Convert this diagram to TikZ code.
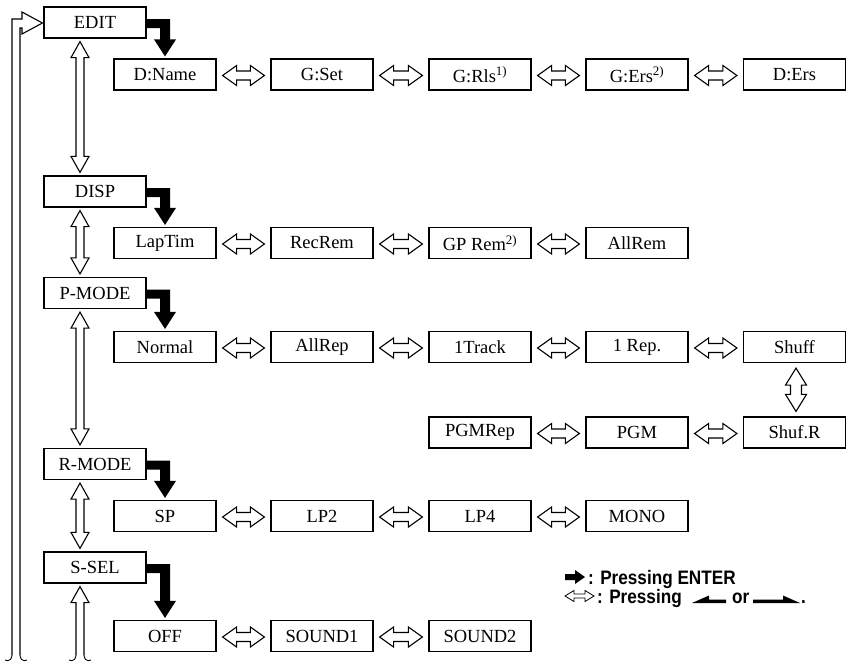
\documentclass[tikz,border=0pt]{standalone}
\usepackage{fontspec}
\setmainfont{Liberation Serif}
\newfontfamily\legfont[FakeStretch=0.88]{Liberation Sans}
\usetikzlibrary{calc}
\tikzset{
  box/.style={draw, line width=1.2pt, minimum width=102pt, minimum height=31pt, inner sep=0pt,
    font=\fontsize{18.5}{21}\selectfont},
  hollow/.style={draw, line width=1.1pt, fill=white, line join=miter},
  openline/.style={draw, line width=1.1pt, line join=miter},
  legtext/.style={anchor=base west, inner sep=0pt, font=\legfont\bfseries\fontsize{19.5}{22}\selectfont},
}
% horizontal hollow double arrow
\newcommand\harr[2]{%
  \draw[hollow] let \p1=(#1.east), \p2=(#2.west) in
   (\x1+6pt,\y1-1pt) -- (\x1+20pt,\y1+9pt) -- (\x1+20pt,\y1+3.5pt) -- (\x2-20pt,\y1+3.5pt)
   -- (\x2-20pt,\y1+9pt) -- (\x2-6pt,\y1-1pt) -- (\x2-20pt,\y1-11pt) -- (\x2-20pt,\y1-5.5pt)
   -- (\x1+20pt,\y1-5.5pt) -- (\x1+20pt,\y1-11pt) -- cycle;}
% vertical hollow double arrow: #1 top node, #2 bottom node, #3 dx, #4 head half, #5 shaft half, #6 head length, #7 gap
\newcommand\varr[7]{%
  \draw[hollow] let \p1=(#1.south), \p2=(#2.north) in
   (\x1+#3,\y1-#7) -- (\x1+#3+#4,\y1-#7-#6) -- (\x1+#3+#5,\y1-#7-#6) -- (\x1+#3+#5,\y2+#7+#6)
   -- (\x1+#3+#4,\y2+#7+#6) -- (\x1+#3,\y2+#7) -- (\x1+#3-#4,\y2+#7+#6) -- (\x1+#3-#5,\y2+#7+#6)
   -- (\x1+#3-#5,\y1-#7-#6) -- (\x1+#3-#4,\y1-#7-#6) -- cycle;}
% black ENTER elbow arrow
\newcommand\enterarr[2]{%
  \fill let \p1=(#1.east), \p2=(#2.north) in
   (\x1,\y1+3.5pt) -- (\x2+5pt,\y1+3.5pt) -- (\x2+5pt,\y2+19pt) -- (\x2+11pt,\y2+19pt)
   -- (\x2,\y2+2pt) -- (\x2-11pt,\y2+19pt) -- (\x2-5pt,\y2+19pt) -- (\x2-5pt,\y1-5.5pt)
   -- (\x1,\y1-5.5pt) -- cycle;}
\begin{document}
\begin{tikzpicture}[x=1pt,y=-1pt]
\useasboundingbox (0,0) rectangle (853,665);
% left column
\node[box] (edit) at (95,22.5) {EDIT};
\node[box] (disp) at (95,191.5) {DISP};
\node[box] (pmode) at (95,293) {P-MODE};
\node[box] (rmode) at (95,464) {R-MODE};
\node[box] (ssel) at (95,567.5) {S-SEL};
% row 1
\node[box] (dname) at (165,74.5) {D:Name};
\node[box] (gset) at (322,74.5) {G:Set};
\node[box] (grls) at (480,74.5) {G:Rls\textsuperscript{1)}};
\node[box] (gers) at (637,74.5) {G:Ers\textsuperscript{2)}};
\node[box] (ders) at (794.5,74.5) {D:Ers};
% row 2
\node[box] (laptim) at (165,243) {LapTim};
\node[box] (recrem) at (322,243) {RecRem};
\node[box] (gprem) at (480,243) {GP Rem\textsuperscript{2)}};
\node[box] (allrem) at (637,243) {AllRem};
% row 3
\node[box] (normal) at (165,347) {Normal};
\node[box] (allrep) at (322,347) {AllRep};
\node[box] (track) at (480,347) {1Track};
\node[box] (onerep) at (637,347) {1 Rep.};
\node[box] (shuff) at (794.5,347) {Shuff};
\node[box] (pgmrep) at (480,432.5) {PGMRep};
\node[box] (pgm) at (637,432.5) {PGM};
\node[box] (shufr) at (794.5,432.5) {Shuf.R};
% row 4
\node[box] (sp) at (165,516) {SP};
\node[box] (lptwo) at (322,516) {LP2};
\node[box] (lpfour) at (480,516) {LP4};
\node[box] (mono) at (637,516) {MONO};
% row 5
\node[box] (off) at (165,636) {OFF};
\node[box] (sone) at (322,636) {SOUND1};
\node[box] (stwo) at (480,636) {SOUND2};

% enter arrows
\enterarr{edit}{dname}
\enterarr{disp}{laptim}
\enterarr{pmode}{normal}
\enterarr{rmode}{sp}
\enterarr{ssel}{off}

% horizontal arrows
\harr{dname}{gset}\harr{gset}{grls}\harr{grls}{gers}\harr{gers}{ders}
\harr{laptim}{recrem}\harr{recrem}{gprem}\harr{gprem}{allrem}
\harr{normal}{allrep}\harr{allrep}{track}\harr{track}{onerep}\harr{onerep}{shuff}
\harr{pgmrep}{pgm}\harr{pgm}{shufr}
\harr{sp}{lptwo}\harr{lptwo}{lpfour}\harr{lpfour}{mono}
\harr{off}{sone}\harr{sone}{stwo}

% vertical arrows
\varr{edit}{disp}{-15pt}{9pt}{4pt}{16pt}{3pt}
\varr{disp}{pmode}{-15pt}{9pt}{4pt}{16pt}{3pt}
\varr{pmode}{rmode}{-15pt}{9pt}{4pt}{16pt}{3pt}
\varr{rmode}{ssel}{-15pt}{9pt}{4pt}{16pt}{3pt}
\varr{shuff}{shufr}{1.5pt}{10.5pt}{5.5pt}{17pt}{5pt}

% up arrow below S-SEL with cut end
\draw[openline] let \p1=(ssel.south) in
  (\x1-19pt,-655pt) -- (\x1-19pt,\y1-19pt) -- (\x1-24pt,\y1-19pt) -- (\x1-15pt,\y1-3pt)
  -- (\x1-6pt,\y1-19pt) -- (\x1-11pt,\y1-19pt) -- (\x1-11pt,-655pt);
\draw[line width=0.9pt] let \p1=(ssel.south) in
  (\x1-19pt,-655pt) .. controls (\x1-19pt,-659pt) and (\x1-22pt,-662pt) .. (\x1-26pt,-660pt)
  (\x1-11pt,-655pt) .. controls (\x1-11pt,-659pt) and (\x1-8pt,-662pt) .. (\x1-4pt,-660pt);

% return loop to EDIT
\draw[openline] let \p1=(edit.west) in
  (12,655) -- (12,19) -- (22,19) -- (22,12) -- (\x1-1pt,\y1-0.5pt) -- (22,34) -- (22,28) -- (20,28) -- (20,655);
\draw[line width=0.9pt]
  (12,655) .. controls (12,659) and (9,662) .. (5,660)
  (20,655) .. controls (20,659) and (23,662) .. (27,660);

% legend
\fill (565,574) -- (575,574) -- (575,570) -- (585,577) -- (575,584) -- (575,580) -- (565,580) -- cycle;
\node[legtext] (legone) at (588,584) {: Pressing ENTER};
\draw[line width=0.8pt, line join=miter] (565,596) -- (574,590.5) -- (574,594) -- (585,594) -- (585,590.5)
  -- (594,596) -- (585,601.5) -- (585,598) -- (574,598) -- (574,601.5) -- cycle;
\node[legtext] (legtwo) at (597,603) {: Pressing};
\fill (692,603) -- (709,595.5) -- (709,599.5) -- (726,599.5) -- (726,603) -- cycle;
\node[legtext] (legor) at (732,603) {or};
\fill (753,599.5) -- (783,599.5) -- (783,595.5) -- (800,603) -- (753,603) -- cycle;
\node[legtext] (legdot) at (801,603) {.};
\end{tikzpicture}
\end{document}
